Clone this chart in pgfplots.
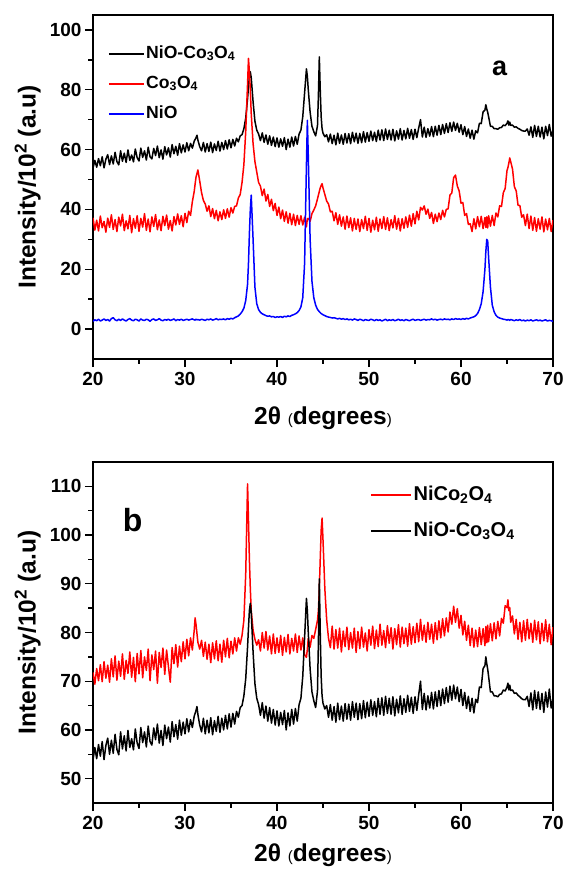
\documentclass[border=0pt]{standalone}
\usepackage{fontspec}
\setmainfont{Liberation Sans}
\usepackage{pgfplots}
\usepackage{pgfplotstable}
\pgfplotsset{compat=1.18}

% x = 2theta; k = NiO-Co3O4, r = Co3O4, b = NiO, n = NiCo2O4
\pgfplotstableread{
x k r b n
20.0 53.8 37.2 2.6 71.8
20.2 56.4 33.1 3.1 69.4
20.4 54.1 36.4 2.8 72.6
20.6 57.0 32.8 3.3 70.1
20.8 54.6 37.8 2.7 73.4
21.0 57.6 33.9 3.0 69.9
21.2 53.9 36.0 3.4 74.0
21.4 56.8 32.4 2.9 70.6
21.6 58.3 37.1 3.2 73.3
21.8 55.0 34.0 2.7 69.8
22.0 57.9 38.2 3.5 74.6
22.2 55.2 33.3 3.8 70.9
22.4 59.1 36.6 3.1 75.2
22.6 56.0 32.6 2.8 70.2
22.8 54.9 37.4 3.3 74.1
23.0 59.6 34.5 2.9 71.0
23.2 56.1 38.4 3.4 75.6
23.4 58.8 32.9 3.0 70.4
23.6 55.7 36.2 2.7 74.3
23.8 59.9 33.5 3.2 71.6
24.0 56.4 38.0 3.5 76.0
24.2 58.2 32.2 3.0 70.8
24.4 55.9 36.9 2.8 74.9
24.6 60.2 33.7 3.3 69.9
24.8 57.3 37.9 3.1 75.7
25.0 56.2 32.7 2.7 71.5
25.2 60.5 37.0 3.4 76.3
25.4 57.4 34.1 3.0 70.7
25.6 59.6 38.6 2.9 75.0
25.8 56.5 33.0 3.3 72.2
26.0 60.8 36.8 3.1 76.6
26.2 57.6 32.5 2.6 70.1
26.4 56.9 37.5 3.2 75.4
26.6 60.4 34.3 3.4 72.4
26.8 58.0 38.3 2.9 76.2
27.0 61.2 33.2 3.1 69.6
27.2 57.3 36.5 3.5 75.9
27.4 59.9 32.9 3.0 72.8
27.6 56.8 37.7 2.8 76.8
27.8 61.0 34.6 3.2 71.4
28.0 58.2 38.1 3.0 76.4
28.2 60.6 33.4 3.3 73.0
28.4 57.5 36.3 2.9 69.8
28.6 61.7 32.8 3.1 76.9
28.8 58.6 37.6 3.4 73.6
29.0 61.1 34.8 2.8 77.5
29.2 58.1 38.5 3.2 72.9
29.4 62.0 35.0 3.0 77.2
29.6 58.9 37.9 3.3 74.0
29.8 61.6 34.2 2.9 78.1
30.0 59.2 38.7 3.1 74.6
30.2 62.3 35.6 3.3 78.6
30.4 59.6 39.4 3.0 75.2
30.6 62.1 38.0 3.2 78.9
30.8 60.5 42.6 3.4 76.4
31.0 62.8 46.0 3.1 80.4
31.1 63.4 48.5 3.0 83.0
31.2 64.0 50.8 3.3 81.6
31.3 64.8 52.0 3.1 79.8
31.4 63.2 53.2 3.2 78.0
31.6 61.0 49.5 3.0 76.6
31.8 59.6 45.6 3.3 78.4
32.0 62.4 43.0 3.1 75.1
32.2 59.2 41.8 2.9 78.0
32.4 62.0 39.4 3.3 74.5
32.6 59.4 41.2 3.1 77.6
32.8 62.5 37.6 3.4 73.8
33.0 59.0 40.3 3.0 77.9
33.2 61.9 36.9 3.2 74.6
33.4 59.7 39.7 3.5 78.3
33.6 62.8 36.2 3.1 74.2
33.8 59.5 39.2 3.3 77.6
34.0 62.4 36.6 3.2 73.9
34.2 60.0 39.9 3.4 78.4
34.4 63.0 37.0 3.1 75.0
34.6 60.2 40.2 3.5 78.8
34.8 63.3 37.4 3.3 74.8
35.0 60.6 40.6 3.6 78.2
35.2 63.4 38.8 3.4 75.6
35.4 61.2 41.0 3.8 78.9
35.6 63.8 41.2 4.1 76.2
35.8 62.6 43.8 4.4 78.9
36.0 64.6 45.0 5.0 77.6
36.2 65.0 49.0 5.8 79.4
36.4 67.0 55.0 7.0 82.5
36.6 70.5 66.0 9.5 92.0
36.8 77.0 82.0 15.0 110.5
36.9 81.0 90.5 22.0 103.0
37.0 84.5 86.0 32.0 95.0
37.1 86.0 80.0 40.0 89.0
37.2 84.0 72.0 44.8 84.5
37.4 76.0 62.0 30.0 80.5
37.6 69.5 56.0 14.0 78.6
37.8 66.5 52.5 8.5 77.4
38.0 65.2 49.0 6.5 78.5
38.2 63.0 47.8 5.6 76.2
38.4 65.6 44.6 5.1 80.0
38.6 62.4 46.8 4.8 76.8
38.8 64.9 42.8 4.5 80.2
39.0 61.8 45.0 4.3 76.4
39.2 64.6 41.0 4.4 79.3
39.4 61.4 43.4 4.1 75.6
39.6 64.2 39.6 4.2 79.7
39.8 61.0 42.0 3.9 75.7
40.0 63.9 38.0 4.1 78.9
40.2 60.8 40.8 4.0 75.9
40.4 63.6 36.9 4.2 79.4
40.6 61.1 39.8 3.9 75.3
40.8 64.0 36.0 4.3 79.0
41.0 60.0 39.2 4.1 76.0
41.2 63.5 35.4 4.4 79.6
41.4 60.8 38.7 4.2 75.6
41.6 64.2 34.9 4.6 78.8
41.8 61.2 38.4 4.8 76.2
42.0 64.4 34.6 5.1 79.7
42.2 61.8 38.0 5.5 75.9
42.4 65.2 35.0 6.2 79.3
42.6 66.5 37.9 7.4 76.4
42.8 71.0 34.8 10.5 78.9
43.0 79.0 37.4 22.0 75.4
43.2 87.0 34.2 55.0 74.9
43.3 84.5 36.9 69.8 76.6
43.4 80.0 37.0 58.0 78.8
43.6 72.5 36.0 30.0 77.0
43.8 67.8 38.6 16.0 79.4
44.0 66.0 39.8 10.5 78.8
44.2 64.6 41.2 8.0 80.6
44.4 68.0 43.5 6.6 82.5
44.5 78.0 44.8 6.2 84.5
44.6 91.0 46.0 5.8 89.0
44.7 80.0 47.2 5.5 95.0
44.8 71.0 48.0 5.2 101.0
44.9 67.0 48.6 5.0 103.5
45.0 65.5 47.2 4.8 99.0
45.2 64.3 45.0 4.5 89.0
45.4 65.0 42.8 4.2 82.6
45.6 62.6 41.8 4.0 78.8
45.8 65.2 39.2 3.9 76.9
46.0 62.0 39.4 3.7 81.3
46.2 64.8 36.2 3.8 76.6
46.4 61.6 38.9 3.6 80.6
46.6 65.5 35.0 3.4 76.8
46.8 62.1 38.2 3.6 80.9
47.0 64.9 34.4 3.3 76.0
47.2 61.8 37.5 3.5 80.3
47.4 65.4 33.4 3.2 77.1
47.6 62.2 37.8 3.4 81.1
47.8 65.3 33.9 3.1 76.5
48.0 62.0 37.2 3.3 80.0
48.2 65.8 32.8 3.0 76.8
48.4 62.6 37.0 3.4 80.9
48.6 65.5 33.3 3.2 75.9
48.8 62.1 36.8 2.9 80.2
49.0 65.4 32.6 3.3 76.7
49.2 62.3 36.6 3.1 81.1
49.4 66.0 33.6 2.8 77.0
49.6 62.5 37.7 3.2 79.9
49.8 65.7 33.0 3.0 76.2
50.0 62.8 37.0 2.9 80.6
50.2 66.2 32.4 3.3 77.4
50.4 63.0 36.4 3.1 81.3
50.6 65.8 33.2 2.8 76.7
50.8 62.7 37.4 3.2 80.5
51.0 66.5 32.7 2.9 77.1
51.2 63.2 36.8 3.1 81.7
51.4 66.6 33.6 2.7 77.4
51.6 63.0 37.6 3.0 80.4
51.8 66.9 33.3 3.3 76.9
52.0 63.4 37.2 2.8 81.4
52.2 66.5 32.9 3.1 77.8
52.4 63.2 36.6 2.9 81.0
52.6 66.8 33.8 3.2 76.6
52.8 62.9 37.9 2.8 80.8
53.0 66.3 33.4 3.0 77.5
53.2 63.5 37.0 3.3 81.6
53.4 67.0 32.8 2.9 77.0
53.6 63.2 36.9 3.1 81.1
53.8 66.4 33.7 2.8 77.7
54.0 63.6 37.5 3.2 80.9
54.2 67.1 34.0 3.0 77.2
54.4 63.8 38.1 2.8 81.8
54.6 66.7 34.4 3.1 77.6
54.8 63.4 38.6 3.3 81.2
55.0 66.8 35.2 2.9 77.9
55.2 64.0 39.4 3.1 81.9
55.4 67.2 36.5 3.2 78.1
55.6 70.0 40.7 2.9 82.7
55.8 64.2 39.8 3.1 78.4
56.0 67.5 41.2 3.3 81.5
56.2 64.1 38.4 3.0 78.0
56.4 67.0 40.1 3.2 82.1
56.6 64.5 37.0 3.1 78.6
56.8 67.7 39.0 3.4 81.7
57.0 64.3 35.3 3.1 77.8
57.2 67.8 38.4 3.3 82.0
57.4 64.8 35.9 3.0 78.5
57.6 68.1 38.8 3.2 82.4
57.8 65.0 36.6 3.3 78.9
58.0 68.4 39.7 3.1 82.8
58.2 65.4 37.5 3.4 79.3
58.4 68.7 40.0 3.2 83.0
58.6 65.7 40.2 3.3 80.1
58.8 69.0 44.8 3.1 84.2
59.0 66.1 45.5 3.4 81.7
59.2 69.2 50.6 3.2 85.4
59.4 66.4 51.5 3.5 82.1
59.6 68.8 47.8 3.3 84.9
59.8 65.8 46.2 3.4 80.9
60.0 68.3 42.1 3.2 83.5
60.2 65.0 42.3 3.5 79.5
60.4 67.7 38.0 3.3 82.3
60.6 64.4 38.6 3.6 78.4
60.8 66.9 35.0 3.4 81.5
61.0 63.8 35.2 3.7 77.3
61.2 66.5 32.6 3.9 80.9
61.4 63.5 36.9 4.1 77.0
61.6 66.3 33.5 4.5 80.5
61.8 65.6 37.6 5.2 77.1
62.0 68.8 34.2 6.5 81.0
62.2 68.7 37.7 8.5 77.5
62.4 72.6 33.6 12.5 80.8
62.6 73.2 37.3 20.0 77.3
62.7 75.0 34.0 26.0 81.2
62.8 73.6 37.5 30.0 77.9
62.9 72.5 33.8 29.5 81.5
63.0 71.0 37.9 24.0 78.1
63.2 67.8 34.4 14.0 81.8
63.4 67.8 38.0 8.0 78.3
63.6 67.0 34.6 5.8 82.0
63.8 67.0 38.8 4.6 78.7
64.0 66.8 37.5 4.0 82.3
64.2 67.3 41.2 3.7 79.3
64.4 67.4 41.0 3.5 82.9
64.6 68.2 45.6 3.3 81.9
64.8 68.0 47.0 3.2 85.5
65.0 68.8 53.0 3.0 85.1
65.1 69.6 54.0 3.2 86.7
65.2 68.2 55.5 3.1 84.5
65.3 69.2 57.2 2.9 85.1
65.4 68.1 56.0 3.2 82.1
65.6 68.2 53.5 3.0 83.4
65.8 67.5 47.6 2.8 79.7
66.0 67.6 46.2 3.1 82.7
66.2 67.1 41.4 2.9 78.6
66.4 66.8 41.3 3.2 82.1
66.6 66.4 37.4 2.8 78.1
66.8 66.2 38.2 3.0 82.4
67.0 66.2 34.6 2.7 78.4
67.2 66.9 38.4 3.0 82.7
67.4 64.8 33.6 2.8 78.7
67.6 67.6 37.8 3.1 81.9
67.8 64.1 33.0 2.7 78.0
68.0 68.1 37.3 2.9 82.5
68.2 64.4 32.7 3.1 78.5
68.4 67.8 36.9 2.8 82.2
68.6 64.2 33.4 3.0 77.7
68.8 67.5 37.5 2.7 81.9
69.0 63.6 32.5 2.9 78.3
69.2 67.8 36.8 3.1 82.6
69.4 64.7 33.2 2.7 78.1
69.6 68.4 37.0 2.9 81.7
69.8 64.5 32.6 2.8 77.5
70.0 66.6 36.4 2.6 81.1
}\xrd

\pgfplotsset{
  xrdpanel/.style={
    scale only axis, width=460pt,
    xmin=20, xmax=70, xtick={20,30,...,70}, minor x tick num=1,
    tick align=outside, xtick pos=bottom, ytick pos=left,
    major tick length=8pt, minor tick length=4.5pt,
    every tick/.style={black, line width=1.4pt},
    axis line style={line width=1.8pt},
    /pgf/number format/assume math mode=true,
    ticklabel style={font=\fontsize{19}{19}\selectfont\bfseries},
    xticklabel style={yshift=-2pt},
    ylabel={Intensity/10\textsuperscript{2} (a.u)},
    xlabel={2θ {\mdseries\fontsize{15}{15}\selectfont(}degrees{\mdseries\fontsize{15}{15}\selectfont)}},
    label style={font=\fontsize{24.5}{24.5}\selectfont\bfseries},
    ylabel style={at={(axis description cs:-0.142,0.5)}, anchor=center},
    legend cell align=left,
    legend image code/.code={\draw[#1, line width=1.5pt] (0pt,0pt) -- (35pt,0pt);},
    every axis plot/.append style={line width=1.5pt, line join=round},
  },
}

\begin{document}
\begin{tikzpicture}
\fill[white] (-93pt,-510pt) rectangle (474pt,359pt);

\begin{axis}[xrdpanel, name=top, height=344pt,
  at={(0pt,0pt)}, anchor=south west,
  ymin=-10, ymax=105, ytick={0,20,...,100}, minor y tick num=1,
  xlabel style={at={(axis description cs:0.5,-0.172)}, anchor=center},
  legend style={draw=none, fill=none, inner sep=0pt,
    at={(axis description cs:0.0326,0.80)}, anchor=west,
    font=\fontsize{17.6}{17.6}\selectfont\bfseries, row sep=10pt,
    nodes={inner sep=1.5pt, text height=13pt, text depth=4pt}},
]
  \addplot[black] table[x=x, y=k] {\xrd};
  \addlegendentry{NiO-Co\textsubscript{3}O\textsubscript{4}}
  \addplot[red] table[x=x, y=r] {\xrd};
  \addlegendentry{Co\textsubscript{3}O\textsubscript{4}}
  \addplot[blue] table[x=x, y=b] {\xrd};
  \addlegendentry{NiO}
  \node[font=\fontsize{27}{27}\selectfont\bfseries] at (axis cs:64.2,87.2) {a};
\end{axis}

\begin{axis}[xrdpanel, height=341pt,
  at={(0pt,-103pt)}, anchor=north west,
  ymin=45, ymax=115, ytick={50,60,...,110}, minor y tick num=1,
  xlabel style={at={(axis description cs:0.5,-0.152)}, anchor=center},
  legend style={draw=none, fill=none, inner sep=0pt,
    at={(axis description cs:0.603,0.85)}, anchor=west,
    font=\fontsize{20}{20}\selectfont\bfseries, row sep=13pt,
    nodes={inner sep=1.5pt, text height=15pt, text depth=5pt}},
  legend image code/.code={\draw[#1, line width=1.5pt] (0pt,0pt) -- (40pt,0pt);},
]
  \addplot[red] table[x=x, y=n] {\xrd};
  \addlegendentry{NiCo\textsubscript{2}O\textsubscript{4}}
  \addplot[black] table[x=x, y=k] {\xrd};
  \addlegendentry{NiO-Co\textsubscript{3}O\textsubscript{4}}
  \node[font=\fontsize{32}{32}\selectfont\bfseries] at (axis cs:24.3,103) {b};
\end{axis}

\pgfresetboundingbox
\path[use as bounding box] (-93pt,-510pt) rectangle (474pt,359pt);
\end{tikzpicture}
\end{document}
